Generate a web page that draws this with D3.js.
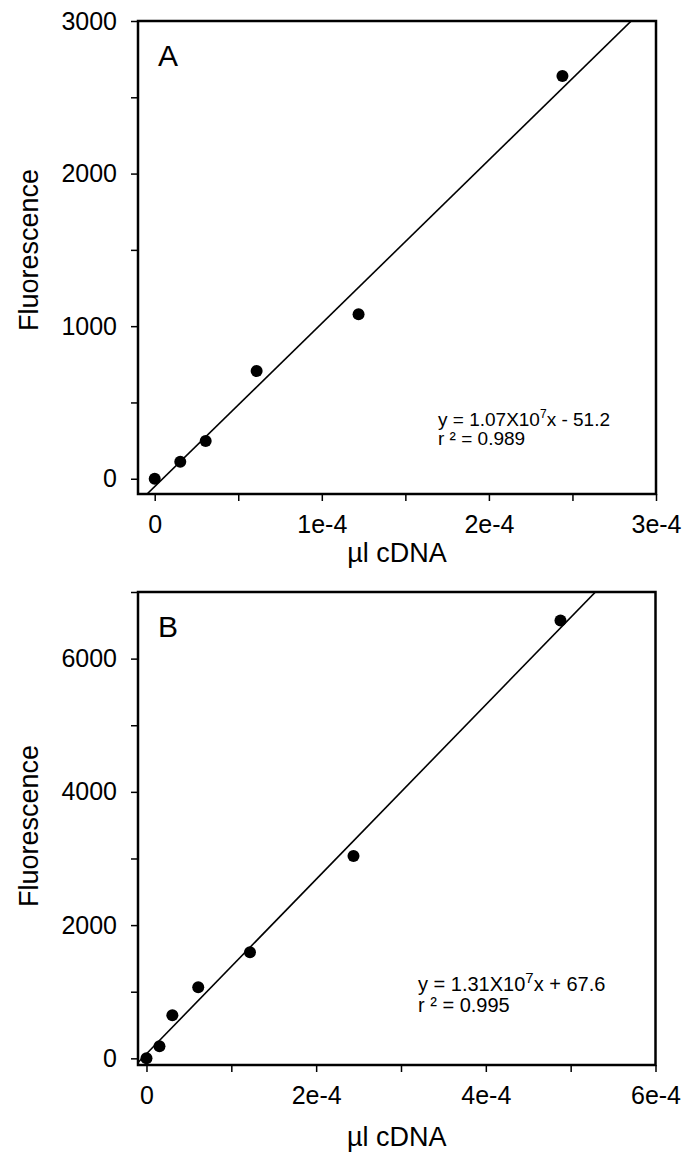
<!DOCTYPE html>
<html lang="en">
<head>
  <meta charset="UTF-8">
  <title>Fluorescence vs cDNA</title>
  <style>
    body { margin: 0; background: #fff; }
    svg { display: block; font-family: "Liberation Sans", Arial, sans-serif; }
  </style>
</head>
<body>
  <svg id="chart"></svg>
  <script src="https://cdn.jsdelivr.net/npm/d3@7/dist/d3.min.js"></script>
  <script>
    // panel A data
    var xA = [0, 1.53e-5, 3.05e-5, 6.1e-5, 1.22e-4, 2.44e-4];
    var yA = [0, 111, 248, 706, 1078, 2640];
    // panel B data
    var xB = [0, 1.53e-5, 3.05e-5, 6.1e-5, 1.22e-4, 2.44e-4, 4.88e-4];
    var yB = [0, 180, 647, 1068, 1594, 3038, 6571];

    var slopes = [1.07e7, 1.31e7];
    var intercepts = [-51.2, 67.6];
    var eqMant = ["1.07", "1.31"];
    var eqRest = ["x - 51.2", "x + 67.6"];
    var r2 = ["0.989", "0.995"];
    var panelNames = ["A", "B"];

    var xTicksA = [0, 1e-4, 2e-4, 3e-4], xMinorA = [5e-5, 1.5e-4, 2.5e-4];
    var xLabelsA = ["0", "1e-4", "2e-4", "3e-4"];
    var yTicksA = [0, 1000, 2000, 3000], yMinorA = [500, 1500, 2500];
    var xTicksB = [0, 2e-4, 4e-4, 6e-4], xMinorB = [1e-4, 3e-4, 5e-4];
    var xLabelsB = ["0", "2e-4", "4e-4", "6e-4"];
    var yTicksB = [0, 2000, 4000, 6000], yMinorB = [1000, 3000, 5000, 7000];

    var W = 696, H = 1152;
    var svg = d3.select("#chart").attr("width", W).attr("height", H);

    var panels = [
      { x: xA, y: yA, xd: [-1e-5, 3e-4], yd: [-100, 3000], top: 21, bottom: 494, right: 656,
        xt: xTicksA, xm: xMinorA, xl: xLabelsA, yt: yTicksA, ym: yMinorA,
        eqX: 438, eqY: 426, eqGap: 19, fs: 19, supFs: 12, supDy: -8, nameY: 66, labY: 250, xlabY: 562 },
      { x: xB, y: yB, xd: [-1e-5, 6e-4], yd: [-100, 7000], top: 592, bottom: 1065, right: 655.5,
        xt: xTicksB, xm: xMinorB, xl: xLabelsB, yt: yTicksB, ym: yMinorB,
        eqX: 418, eqY: 991, eqGap: 21, fs: 20, supFs: 15, supDy: -8, nameY: 637, labY: 826, xlabY: 1146 }
    ];
    var left = 138;

    panels.forEach(function (p, i) {
      var x = d3.scaleLinear().domain(p.xd).range([left, p.right]);
      var y = d3.scaleLinear().domain(p.yd).range([p.bottom, p.top]);
      var g = svg.append("g");

      // clip for regression line
      var cid = "clip" + i;
      svg.append("clipPath").attr("id", cid).append("rect")
        .attr("x", left).attr("y", p.top)
        .attr("width", p.right - left).attr("height", p.bottom - p.top);

      // fit line
      var fx = p.xd;
      g.append("line")
        .attr("clip-path", "url(#" + cid + ")")
        .attr("x1", x(fx[0])).attr("y1", y(slopes[i] * fx[0] + intercepts[i]))
        .attr("x2", x(fx[1])).attr("y2", y(slopes[i] * fx[1] + intercepts[i]))
        .attr("stroke", "#000").attr("stroke-width", 1.6);

      // points
      g.selectAll("circle").data(p.x).enter().append("circle")
        .attr("cx", function (d) { return x(d); })
        .attr("cy", function (d, j) { return y(p.y[j]); })
        .attr("r", 6).attr("fill", "#000");

      // axes
      var ax = g.append("g").attr("transform", "translate(0," + p.bottom + ")")
        .call(d3.axisBottom(x).tickValues(p.xt).tickSize(7).tickPadding(14)
          .tickFormat(function (d, j) { return p.xl[j]; }));
      ax.append("g").call(d3.axisBottom(x).tickValues(p.xm).tickSize(7).tickFormat(""));
      var ay = g.append("g").attr("transform", "translate(" + left + ",0)")
        .call(d3.axisLeft(y).tickValues(p.yt).tickSize(7).tickPadding(14).tickFormat(d3.format("d")));
      ay.append("g").call(d3.axisLeft(y).tickValues(p.ym).tickSize(7).tickFormat(""));
      g.selectAll(".domain").remove();
      g.selectAll(".tick line").attr("stroke", "#000").attr("stroke-width", 1.5);
      g.selectAll(".tick text").attr("font-size", 25).attr("fill", "#000")
        .attr("font-family", "'Liberation Sans', Arial, sans-serif");

      // frame
      g.append("rect")
        .attr("x", left).attr("y", p.top)
        .attr("width", p.right - left).attr("height", p.bottom - p.top)
        .attr("fill", "none").attr("stroke", "#000").attr("stroke-width", 2.5);

      // panel letter
      g.append("text").attr("x", 158).attr("y", p.nameY)
        .attr("font-size", 30).text(panelNames[i]);

      // equation
      var eq = g.append("text").attr("x", p.eqX).attr("y", p.eqY).attr("font-size", p.fs);
      eq.append("tspan").text("y = " + eqMant[i] + "X10");
      eq.append("tspan").attr("font-size", p.supFs).attr("dy", p.supDy).text("7");
      eq.append("tspan").attr("dy", -p.supDy).text(eqRest[i]);
      g.append("text").attr("x", p.eqX).attr("y", p.eqY + p.eqGap).attr("font-size", p.fs)
        .text("r \u00b2 = " + r2[i]);

      // axis titles
      g.append("text")
        .attr("transform", "translate(38," + p.labY + ") rotate(-90)")
        .attr("text-anchor", "middle").attr("font-size", 27).text("Fluorescence");
      g.append("text")
        .attr("x", (left + p.right) / 2).attr("y", p.xlabY)
        .attr("text-anchor", "middle").attr("font-size", 27).text("\u00b5l cDNA");
    });
  </script>
</body>
</html>
